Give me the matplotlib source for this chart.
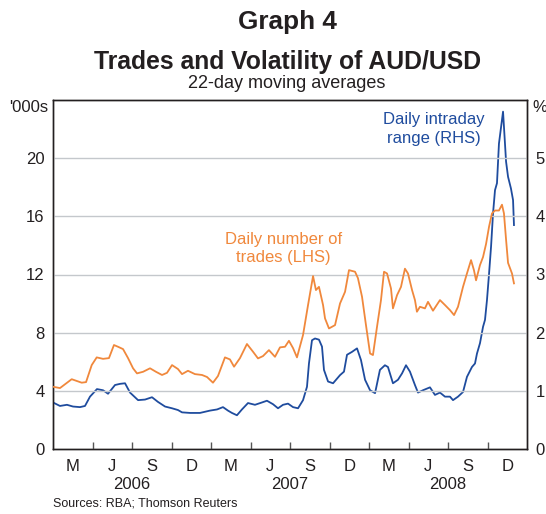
# Graph 4: Trades and Volatility of AUD/USD (22-day moving averages)
import numpy as np
import matplotlib
matplotlib.use("Agg")
import matplotlib.pyplot as plt

plt.rcParams['font.family'] = ['Liberation Sans', 'DejaVu Sans']

# x positions are months since 1 March 2006
trades_month = [0.00, 0.53, 1.42, 2.18, 2.51, 2.94, 3.32, 3.80, 4.25, 4.63, 4.94, 5.32,
                5.70, 6.08, 6.38, 6.84, 7.37, 7.82, 8.28, 8.66, 9.04, 9.49, 9.80, 10.25,
                10.78, 11.32, 11.70, 12.15, 12.53, 13.06, 13.44, 13.75, 14.20, 14.73, 15.19,
                15.57, 15.95, 16.40, 16.86, 17.24, 17.62, 17.92, 18.23, 18.53, 18.99, 19.37,
                19.75, 19.97, 20.20, 20.51, 20.66, 20.96, 21.42, 21.80, 22.18, 22.48, 22.94,
                23.16, 23.47, 23.77, 24.08, 24.30, 24.61, 24.91, 25.14, 25.37, 25.67, 25.82,
                26.13, 26.43, 26.73, 26.96, 27.27, 27.49, 27.64, 27.87, 28.25, 28.48, 28.86,
                29.39, 29.77, 30.15, 30.46, 30.76, 31.14, 31.44, 31.75, 31.97, 32.13, 32.43,
                32.66, 32.89, 33.12, 33.34, 33.57, 33.87, 34.10, 34.25, 34.41, 34.56, 34.86,
                35.01]
trades = [4.28, 4.19, 4.80, 4.56, 4.60, 5.77, 6.30, 6.20, 6.25, 7.15, 7.03, 6.87,
          6.25, 5.55, 5.20, 5.31, 5.55, 5.31, 5.09, 5.24, 5.77, 5.50, 5.15, 5.38,
          5.15, 5.09, 4.95, 4.56, 5.02, 6.30, 6.16, 5.66, 6.25, 7.22, 6.69,
          6.23, 6.39, 6.80, 6.34, 6.99, 7.03, 7.44, 6.94, 6.30, 7.84, 9.90,
          11.89, 10.93, 11.15, 9.90, 8.98, 8.29, 8.52, 10.01, 10.81, 12.30, 12.19,
          11.75, 10.47, 8.52, 6.57, 6.46, 8.41, 10.24, 12.19, 12.07, 11.04, 9.67,
          10.58, 11.15, 12.40, 12.07, 10.93, 10.24, 9.44, 9.78, 9.67, 10.12, 9.51,
          10.24, 9.90, 9.55, 9.21, 9.78, 11.15, 12.07, 12.99, 12.30, 11.60, 12.65,
          13.20, 14.10, 15.30, 16.20, 16.40, 16.40, 16.80, 16.20, 14.40, 12.80, 12.07,
          11.39]

range_month = [0.00, 0.53, 1.06, 1.52, 2.05, 2.43, 2.81, 3.34, 3.80, 4.18, 4.71, 5.09,
               5.47, 5.85, 6.46, 6.99, 7.52, 7.97, 8.51, 9.04, 9.49, 9.80, 10.41, 11.16,
               11.92, 12.46, 12.91, 13.29, 13.59, 13.97, 14.35, 14.81, 15.34, 15.87, 16.25,
               16.71, 17.09, 17.47, 17.85, 18.23, 18.61, 18.99, 19.29, 19.44, 19.67, 19.90,
               20.20, 20.43, 20.58, 20.89, 21.27, 21.80, 22.10, 22.33, 22.71, 23.09, 23.39,
               23.70, 24.08, 24.46, 24.83, 25.21, 25.44, 25.82, 26.20, 26.51, 26.81, 27.11,
               27.49, 27.72, 28.10, 28.63, 29.01, 29.39, 29.77, 30.15, 30.38, 30.76, 31.14,
               31.44, 31.82, 32.05, 32.20, 32.43, 32.66, 32.81, 32.96, 33.12, 33.27, 33.42,
               33.57, 33.72, 33.87, 34.18, 34.25, 34.41, 34.56, 34.78, 34.94, 35.01]
intraday_range = [0.80, 0.74, 0.76, 0.73, 0.72, 0.74, 0.90, 1.03, 1.01, 0.95, 1.10, 1.12,
                  1.13, 0.97, 0.84, 0.85, 0.89, 0.81, 0.73, 0.70, 0.67, 0.63, 0.62, 0.62,
                  0.66, 0.68, 0.72, 0.66, 0.62, 0.58, 0.68, 0.79, 0.76, 0.80, 0.83,
                  0.77, 0.70, 0.76, 0.78, 0.72, 0.70, 0.84, 1.07, 1.47, 1.87, 1.90,
                  1.88, 1.76, 1.36, 1.16, 1.13, 1.27, 1.33, 1.62, 1.67, 1.73, 1.53,
                  1.19, 1.01, 0.96, 1.36, 1.44, 1.41, 1.13, 1.19, 1.30, 1.44, 1.33,
                  1.10, 0.97, 1.01, 1.06, 0.93, 0.97, 0.90, 0.90, 0.84, 0.90, 0.98,
                  1.24, 1.41, 1.47, 1.64, 1.82, 2.10, 2.22, 2.56, 3.02, 3.48, 4.05,
                  4.45, 4.57, 5.25, 5.80, 5.54, 4.94, 4.68, 4.48, 4.28, 3.85]

month_labels = ['M', 'J', 'S', 'D'] * 3
year_labels = ['2006', '2007', '2008']

orange = '#F0883C'
blue = '#1F4C9E'
grid_col = '#C4C8CC'

fig = plt.figure(figsize=(5.46, 5.14), dpi=100)
ax = fig.add_axes([53 / 546, 65 / 514, 474 / 546, 349 / 514])
ax2 = ax.twinx()

ax.set_xlim(0, 36)
ax.set_ylim(0, 24)
ax2.set_ylim(0, 6)

# gridlines (shared between axes)
for v in range(4, 24, 4):
    ax.axhline(v, color=grid_col, lw=1.0, zorder=0)

ax2.plot(range_month, intraday_range, color=blue, lw=1.3, zorder=3)
ax.plot(trades_month, trades, color=orange, lw=1.3, zorder=3)
ax.set_zorder(ax2.get_zorder() + 1)
ax.patch.set_visible(False)

ax.set_yticks(range(0, 24, 4))
ax2.set_yticks(range(0, 6))
ax.tick_params(axis='y', length=0, labelsize=12, pad=6, colors='#231F20')
ax2.tick_params(axis='y', length=0, labelsize=12, pad=6, colors='#231F20')

# quarter boundaries as inner ticks, month letters centred in between
ax.set_xticks(np.arange(3, 36, 3))
ax.set_xticklabels([])
ax.tick_params(axis='x', direction='in', length=5, width=1, color='#555555')
ax2.tick_params(axis='x', length=0)
for i, lab in enumerate(month_labels):
    ax.text(i * 3 + 1.5, -0.05, lab, transform=ax.get_xaxis_transform(),
            ha='center', va='center', fontsize=12, color='#231F20')
for i, yr in enumerate(year_labels):
    ax.text(i * 12 + 6, -0.103, yr, transform=ax.get_xaxis_transform(),
            ha='center', va='center', fontsize=12, color='#231F20')

for a in (ax, ax2):
    for s in a.spines.values():
        s.set_color('#231F20')
        s.set_linewidth(1.0)

fig.text(48 / 546, 1 - 107 / 514, "'000s", ha='right', va='center', fontsize=12, color='#231F20')
fig.text(532 / 546, 1 - 107 / 514, "%", ha='left', va='center', fontsize=12, color='#231F20')

fig.text(287 / 546, 1 - 22 / 514, 'Graph 4', ha='center', va='center',
         fontsize=18.8, fontweight='bold', color='#231F20')
fig.text(287.5 / 546, 1 - 62 / 514, 'Trades and Volatility of AUD/USD', ha='center', va='center',
         fontsize=17.8, fontweight='bold', color='#231F20')
fig.text(287 / 546, 1 - 83 / 514, '22-day moving averages', ha='center', va='center',
         fontsize=13, color='#231F20')

ax.text(17.5, 13.8, 'Daily number of\ntrades (LHS)', ha='center', va='center',
        fontsize=12, color=orange, linespacing=1.3)
ax2.text(28.9, 5.5, 'Daily intraday\nrange (RHS)', ha='center', va='center',
         fontsize=12, color=blue, linespacing=1.3)

fig.text(53 / 546, 1 - 504 / 514, 'Sources: RBA; Thomson Reuters', ha='left', va='center',
         fontsize=9, color='#231F20')

fig.savefig('out.png', dpi=100)
